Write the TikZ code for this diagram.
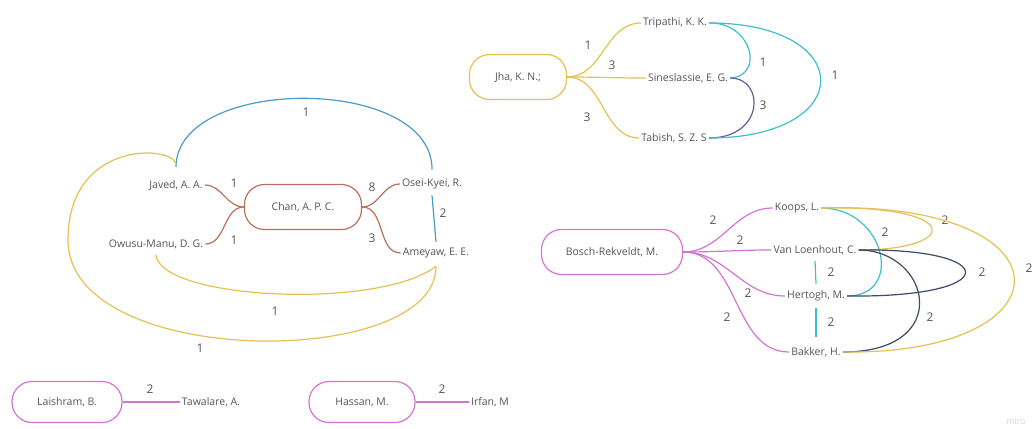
\documentclass[tikz,border=0pt]{standalone}
\usepackage{fontspec}
\setmainfont{Open Sans}

\definecolor{c_text}{HTML}{555555}
\definecolor{c_chan}{HTML}{B8705A}
\definecolor{c_gold}{HTML}{E5C052}
\definecolor{c_blue}{HTML}{4A9CC4}
\definecolor{c_teal}{HTML}{3EBFCC}
\definecolor{c_plum}{HTML}{6B5C98}
\definecolor{c_navy}{HTML}{3C4A6A}
\definecolor{c_pink}{HTML}{D274D2}
\definecolor{c_mark}{HTML}{D4D4D4}

\tikzset{
	node_main/.style = {
		rectangle,
		draw,
		rounded corners=20pt,
		line width=1.2pt,
		minimum height=45pt,
		text=c_text,
		font=\fontsize{10.5}{12}\selectfont
	},
	node_name/.style = {
		inner sep=2pt,
		text=c_text,
		font=\fontsize{10.5}{12}\selectfont
	},
	node_num/.style = {
		inner sep=1pt,
		text=c_text,
		font=\fontsize{12}{14}\selectfont
	},
	link/.style = {
		line width=1.2pt
	},
}

\begin{document}
\begin{tikzpicture}[x=1pt, y=-1pt]
\useasboundingbox (0,0) rectangle (1035,428);

% Chan group
\node [node_main, draw=c_chan, minimum width=117pt] (chan) at (303,207) {Chan, A. P. C.};
\node [node_name] (javed) at (176,185) {Javed, A. A.};
\node [node_name] (owusu) at (156,244) {Owusu-Manu, D. G.};
\node [node_name] (osei) at (432,184) {Osei-Kyei, R.};
\node [node_name] (ameyaw) at (436,253) {Ameyaw, E. E.};

\draw [link, c_chan] (chan.west) to[out=180, in=0] (javed.east);
\draw [link, c_chan] (chan.west) to[out=180, in=0] (owusu.east);
\draw [link, c_chan] (chan.east) to[out=0, in=180] (osei.west);
\draw [link, c_chan] (chan.east) to[out=0, in=180] (ameyaw.west);
\node [node_num] (n_javed) at (234,183) {1};
\node [node_num] (n_owusu) at (234,240) {1};
\node [node_num] (n_osei) at (372,187) {8};
\node [node_num] (n_ameyaw) at (372,238) {3};

\draw [link, c_blue] ([yshift=11pt]javed.north) .. controls (177,75) and (433,75) .. ([yshift=7pt]osei.north);
\node [node_num] (n_jo) at (306,112) {1};
\draw [link, c_blue] ([yshift=-4pt]osei.south) -- ([yshift=4pt]ameyaw.north);
\node [node_num] (n_oa) at (443,213) {2};

\draw [link, c_gold] ([yshift=14pt]javed.north) .. controls (172,145) and (68,140) .. (68,240)
	.. controls (68,370) and (437,370) .. ([yshift=-6pt]ameyaw.south);
\node [node_num] (n_ja) at (200,348) {1};
\draw [link, c_gold] ([yshift=-4pt]owusu.south) .. controls (160,300) and (380,310) .. ([yshift=-6pt]ameyaw.south);
\node [node_num] (n_wa) at (275,311) {1};

% Jha group
\node [node_main, draw=c_gold, minimum width=97pt] (jha) at (518,77) {Jha, K. N.;};
\node [node_name] (tripathi) at (675,23) {Tripathi, K. K.};
\node [node_name] (sines) at (688,78) {Sineslassie, E. G.};
\node [node_name] (tabish) at (674,138) {Tabish, S. Z. S};

\draw [link, c_gold] (jha.east) to[out=0, in=180] (tripathi.west);
\draw [link, c_gold] (jha.east) to[out=0, in=180] (sines.west);
\draw [link, c_gold] (jha.east) to[out=0, in=180] (tabish.west);
\node [node_num] (n_tripathi) at (588,45) {1};
\node [node_num] (n_sines) at (612,65) {3};
\node [node_num] (n_tabish) at (587,117) {3};

\draw [link, c_teal] (tripathi.east) .. controls (752,22) and (765,76) .. (sines.east);
\node [node_num] (n_ts) at (763,62) {1};
\draw [link, c_plum] (sines.east) .. controls (765,78) and (765,138) .. (tabish.east);
\node [node_num] (n_st) at (763,105) {3};
\draw [link, c_teal] (tripathi.east) .. controls (858,23) and (858,138) .. (tabish.east);
\node [node_num] (n_tt) at (835,75) {1};

% Bosch-Rekveldt group
\node [node_main, draw=c_pink, minimum width=141pt] (bosch) at (612,252) {Bosch-Rekveldt, M.};
\node [node_name] (koops) at (797,208) {Koops, L.};
\node [node_name] (vanl) at (815,250) {Van Loenhout, C.};
\node [node_name] (hertogh) at (816,296) {Hertogh, M.};
\node [node_name] (bakker) at (816,352) {Bakker, H.};

\draw [link, c_pink] (bosch.east) to[out=0, in=180] (koops.west);
\draw [link, c_pink] (bosch.east) to[out=0, in=180] (vanl.west);
\draw [link, c_pink] (bosch.east) to[out=0, in=180] (hertogh.west);
\draw [link, c_pink] (bosch.east) to[out=0, in=180] (bakker.west);
\node [node_num] (n_koops) at (713,220) {2};
\node [node_num] (n_vanl) at (740,240) {2};
\node [node_num] (n_hertogh) at (748,293) {2};
\node [node_num] (n_bakker) at (727,317) {2};

\draw [link, c_teal] ([yshift=-4pt]vanl.south) -- ([yshift=5pt]hertogh.north);
\node [node_num] (n_vh) at (831,272) {2};
\draw [link, c_teal] ([yshift=-5pt]hertogh.south) -- ([yshift=8pt]bakker.north);
\node [node_num] (n_hb) at (831,322) {2};

\draw [link, c_teal] (koops.east) .. controls (885,208) and (905,296) .. (hertogh.east);
\node [node_num] (n_kh) at (885,232) {2};
\draw [link, c_gold] (koops.east) .. controls (965,205) and (960,250) .. (vanl.east);
\node [node_num] (n_kv) at (945,220) {2};
\draw [link, c_navy] (vanl.east) .. controls (1003,248) and (1003,298) .. (hertogh.east);
\node [node_num] (n_vhb) at (982,272) {2};
\draw [link, c_navy] (vanl.east) .. controls (930,250) and (955,352) .. (bakker.east);
\node [node_num] (n_vb) at (930,317) {2};
\draw [link, c_gold] (koops.east) .. controls (1075,200) and (1075,355) .. (bakker.east);
\node [node_num] (n_kb) at (1029,268) {2};

% single pairs
\node [node_main, draw=c_pink, minimum width=110pt, minimum height=41pt] (laishram) at (67,402) {Laishram, B.};
\node [node_name] (tawalare) at (211,402) {Tawalare, A.};
\draw [link, c_pink] (laishram.east) -- (tawalare.west);
\node [node_num] (n_lt) at (150,389) {2};

\node [node_main, draw=c_pink, minimum width=106pt, minimum height=41pt] (hassan) at (362,402) {Hassan, M.};
\node [node_name] (irfan) at (490,402) {Irfan, M};
\draw [link, c_pink] (hassan.east) -- (irfan.west);
\node [node_num] (n_hi) at (442,389) {2};

\node [text=c_mark, font=\fontsize{9}{10}\selectfont] (miro) at (1016,421) {miro};
\end{tikzpicture}
\end{document}
